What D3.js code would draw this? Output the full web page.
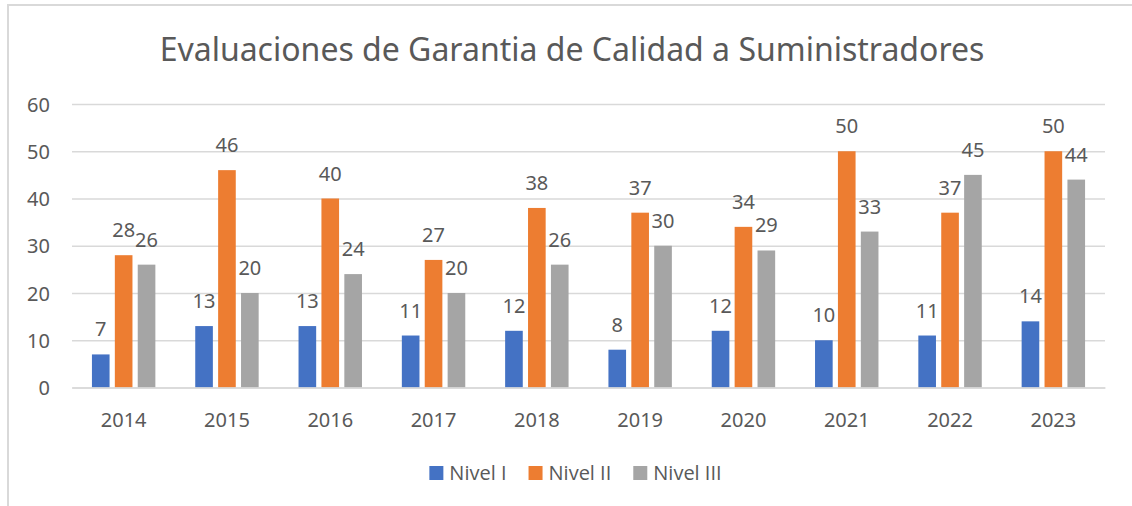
<!DOCTYPE html>
<html>
<head>
<meta charset="utf-8">
<script src="https://cdn.jsdelivr.net/npm/d3@7"></script>
<style>
  html, body { margin: 0; padding: 0; background: #fff; }
  svg { display: block; }
  text { font-family: "Noto Sans", "Open Sans", sans-serif; fill: #595959; }
  .legend text { font-family: "Open Sans", "Noto Sans", sans-serif; }
</style>
</head>
<body>
<svg id="chart" width="1132" height="506"></svg>
<script>
const title = "Evaluaciones de Garantia de Calidad a Suministradores";
const years = ["2014","2015","2016","2017","2018","2019","2020","2021","2022","2023"];
const seriesNames = ["Nivel I","Nivel II","Nivel III"];
const nivel1 = [7, 13, 13, 11, 12, 8, 12, 10, 11, 14];
const nivel2 = [28, 46, 40, 27, 38, 37, 34, 50, 37, 50];
const nivel3 = [26, 20, 24, 20, 26, 30, 29, 33, 45, 44];
const yTicks = [0, 10, 20, 30, 40, 50, 60];
const colors = ["#4472C4", "#ED7D31", "#A5A5A5"];

const seriesValues = [nivel1, nivel2, nivel3];
const svg = d3.select("#chart");

// frame
svg.append("line").attr("x1", 8).attr("x2", 1132).attr("y1", 5).attr("y2", 5)
  .attr("stroke", "#d9d9d9").attr("stroke-width", 2);
svg.append("line").attr("x1", 8).attr("x2", 8).attr("y1", 4).attr("y2", 506)
  .attr("stroke", "#d9d9d9").attr("stroke-width", 2);

// title
svg.append("text").attr("x", 572).attr("y", 61).attr("text-anchor", "middle")
  .style("font-size", "32px").text(title);

const left = 72, right = 1105, y0 = 387.5, yTop = 104;
const y = d3.scaleLinear().domain([0, 60]).range([y0, yTop]);
const x0 = d3.scaleBand().domain(years).range([left, right]).paddingInner(0.386).paddingOuter(0.193);
const x1 = d3.scaleBand().domain(seriesNames).range([0, x0.bandwidth()]).paddingInner(0.23).paddingOuter(0);

// gridlines + y axis
const yAxis = d3.axisLeft(y).tickValues(yTicks).tickSize(-(right - left)).tickPadding(22);
const gy = svg.append("g").attr("transform", `translate(${left},0)`).call(yAxis);
gy.select(".domain").remove();
gy.selectAll(".tick line").attr("stroke", "#d9d9d9").attr("stroke-width", 1.3);
gy.selectAll(".tick text").style("font-size", "20px").attr("fill", "#595959")
  .attr("font-family", null).attr("dy", "0.36em");

// bars
const groups = svg.append("g").selectAll("g").data(years).join("g")
  .attr("transform", d => `translate(${x0(d)},0)`);
seriesNames.forEach((s, si) => {
  groups.append("rect")
    .attr("x", x1(s))
    .attr("width", x1.bandwidth())
    .attr("y", (d, i) => y(seriesValues[si][i]))
    .attr("height", (d, i) => y0 - y(seriesValues[si][i]))
    .attr("fill", colors[si]);
  groups.append("text")
    .attr("x", x1(s) + x1.bandwidth() / 2)
    .attr("y", (d, i) => y(seriesValues[si][i]) - 18)
    .attr("text-anchor", "middle")
    .style("font-size", "20px")
    .text((d, i) => seriesValues[si][i]);
});

// x axis
const xAxis = d3.axisBottom(x0).tickSize(0).tickPadding(0);
const gx = svg.append("g").attr("transform", `translate(0,${y0})`).call(xAxis);
gx.select(".domain").attr("stroke", "#d9d9d9").attr("stroke-width", 1.3);
gx.selectAll(".tick text").style("font-size", "20px").attr("fill", "#595959")
  .attr("font-family", null).attr("dy", null).attr("y", 39);

// legend
const legend = svg.append("g").attr("class", "legend");
let lx = 0;
seriesNames.forEach((s, i) => {
  const g = legend.append("g");
  g.append("rect").attr("x", 0).attr("y", 466).attr("width", 14).attr("height", 14).attr("fill", colors[i]);
  const t = g.append("text").attr("x", 20).attr("y", 480).style("font-size", "20px").text(s);
  const w = 20 + t.node().getComputedTextLength();
  g.attr("transform", `translate(${lx},0)`);
  lx += w + 22;
});
const totalW = lx - 22;
legend.attr("transform", `translate(${575.5 - totalW / 2},0)`);
</script>
</body>
</html>
